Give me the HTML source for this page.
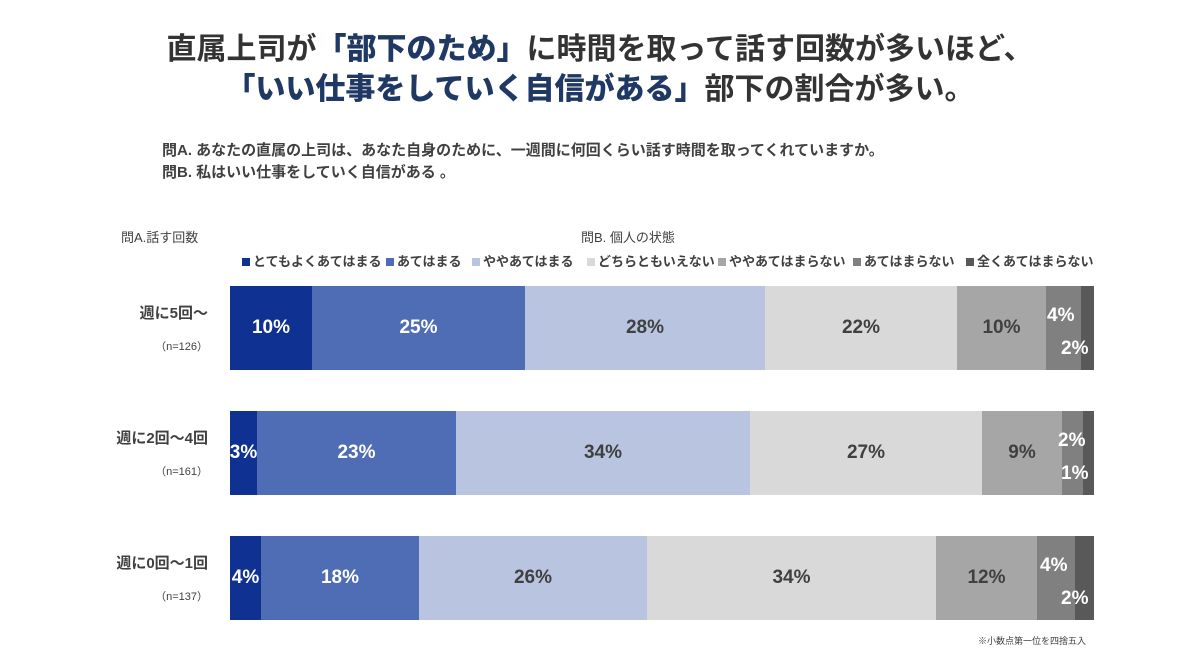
<!DOCTYPE html><html><head><meta charset="utf-8"><style>
body{margin:0;width:1200px;height:662px;background:#fff;font-family:"Liberation Sans","Noto Sans CJK JP",sans-serif;color:#404040;position:relative;overflow:hidden}
.a{position:absolute;white-space:nowrap}
.t{left:0;width:1200px;text-align:center;font-size:30px;font-weight:bold;color:#333}
.t b{color:#1f3864}
.bar{position:absolute;left:230px;width:864px;height:84px;display:flex}
.bar div{height:100%;position:relative;font-weight:bold;font-size:19px;display:flex;align-items:center;justify-content:center}
.w{color:#fff}.d{color:#404040}
.lg{position:absolute;top:251px;font-size:13px;font-weight:bold;color:#404040}
.lg span{display:inline-block;width:8px;height:8px;margin-right:3px}
.rl{position:absolute;right:992px;text-align:right;font-weight:bold;font-size:15px}
.n{position:absolute;right:992px;font-size:11px;color:#404040}
.s{position:absolute;color:#fff;font-weight:bold;font-size:19px}
</style></head><body>
<div class="a t" style="top:24px">直属上司が<b>「部下のため」</b>に時間を取って話す回数が多いほど、</div>
<div class="a t" style="top:64px"><b>「いい仕事をしていく自信がある」</b>部下の割合が多い。</div>
<div class="a" style="left:162px;top:139px;font-size:15px;font-weight:bold">問A. あなたの直属の上司は、あなた自身のために、一週間に何回くらい話す時間を取ってくれていますか。</div>
<div class="a" style="left:162px;top:161px;font-size:15px;font-weight:bold">問B. 私はいい仕事をしていく自信がある 。</div>
<div class="a" style="left:121px;top:227px;font-size:13px">問A.話す回数</div>
<div class="a" style="left:581px;top:227px;font-size:13px">問B. 個人の状態</div>
<div class="lg" style="left:242px"><span style="background:#0e3192"></span>とてもよくあてはまる</div>
<div class="lg" style="left:386px"><span style="background:#4f6db4"></span>あてはまる</div>
<div class="lg" style="left:472px"><span style="background:#b8c4e0"></span>ややあてはまる</div>
<div class="lg" style="left:587px"><span style="background:#d9d9d9"></span>どちらともいえない</div>
<div class="lg" style="left:718px"><span style="background:#a6a6a6"></span>ややあてはまらない</div>
<div class="lg" style="left:853px"><span style="background:#808080"></span>あてはまらない</div>
<div class="lg" style="left:966px"><span style="background:#595959"></span>全くあてはまらない</div>

<div class="rl" style="top:302px">週に5回～</div><div class="n" style="top:338px">（n=126）</div>
<div class="rl" style="top:427px">週に2回～4回</div><div class="n" style="top:463px">（n=161）</div>
<div class="rl" style="top:552px">週に0回～1回</div><div class="n" style="top:588px">（n=137）</div>

<div class="bar" style="top:286px">
<div class="w" style="width:82px;background:#0e3192">10%</div>
<div class="w" style="width:213px;background:#4f6db4">25%</div>
<div class="d" style="width:240px;background:#b8c4e0">28%</div>
<div class="d" style="width:192px;background:#d9d9d9">22%</div>
<div class="d" style="width:89px;background:#a6a6a6">10%</div>
<div style="width:35px;background:#808080"></div>
<div style="width:13px;background:#595959"></div>
</div>
<div class="a s" style="left:1047px;top:305px">4%</div>
<div class="a s" style="left:1061px;top:338px">2%</div>
<div class="bar" style="top:411px">
<div class="w" style="width:27px;background:#0e3192;overflow:visible">3%</div>
<div class="w" style="width:199px;background:#4f6db4">23%</div>
<div class="d" style="width:294px;background:#b8c4e0">34%</div>
<div class="d" style="width:232px;background:#d9d9d9">27%</div>
<div class="d" style="width:80px;background:#a6a6a6">9%</div>
<div style="width:21px;background:#808080"></div>
<div style="width:11px;background:#595959"></div>
</div>
<div class="a s" style="left:1058px;top:430px">2%</div>
<div class="a s" style="left:1061px;top:463px">1%</div>
<div class="bar" style="top:536px">
<div class="w" style="width:31px;background:#0e3192">4%</div>
<div class="w" style="width:158px;background:#4f6db4">18%</div>
<div class="d" style="width:228px;background:#b8c4e0">26%</div>
<div class="d" style="width:289px;background:#d9d9d9">34%</div>
<div class="d" style="width:101px;background:#a6a6a6">12%</div>
<div style="width:38px;background:#808080"></div>
<div style="width:19px;background:#595959"></div>
</div>
<div class="a s" style="left:1040px;top:555px">4%</div>
<div class="a s" style="left:1061px;top:588px">2%</div>
<div class="a" style="left:978px;top:634px;font-size:9px">※小数点第一位を四捨五入</div>
</body></html>
